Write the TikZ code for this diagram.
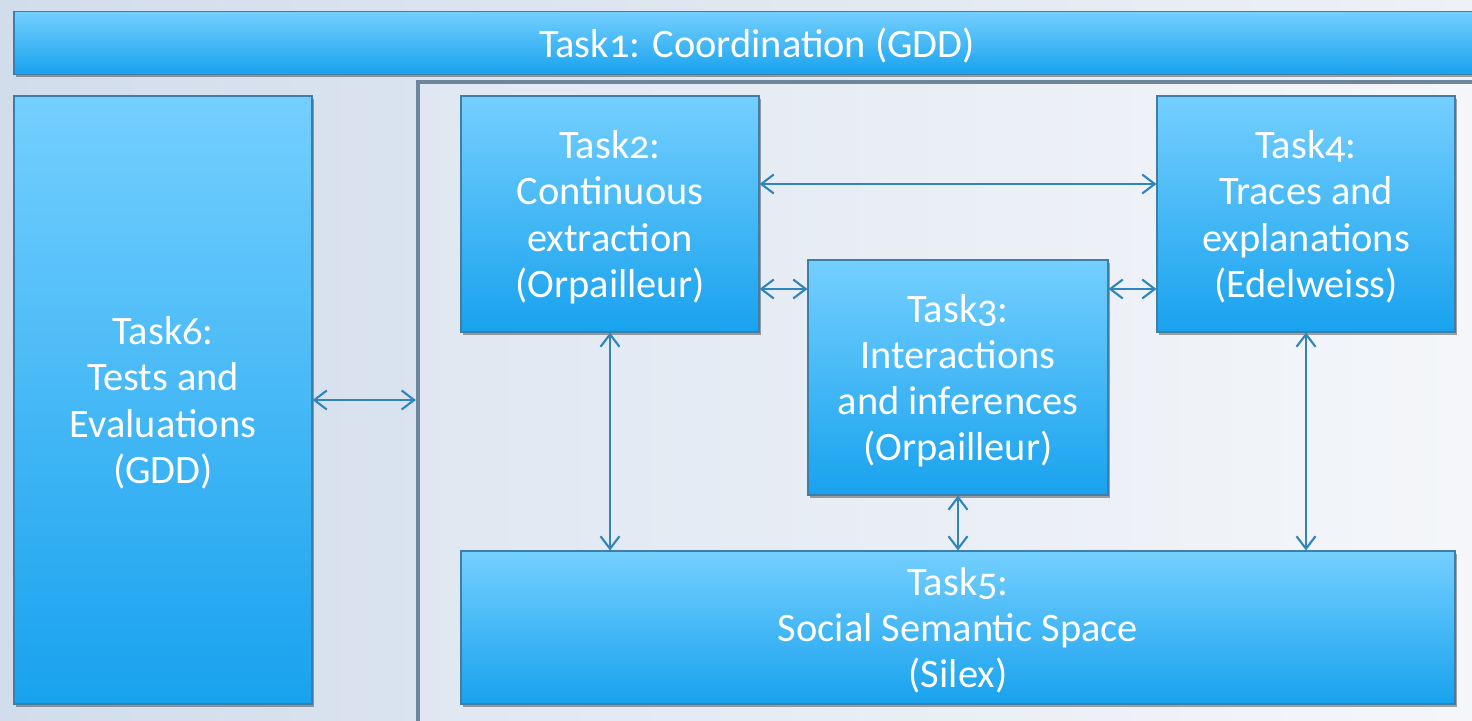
\documentclass[tikz,border=0pt]{standalone}
\usepackage{fontspec}
\setmainfont[Numbers=OldStyle]{Carlito}
\usetikzlibrary{arrows.meta,shadows}
\definecolor{boxtop}{HTML}{74CFFE}
\definecolor{boxbot}{HTML}{18A2EE}
\definecolor{boxline}{HTML}{3F7EA6}
\definecolor{linkblue}{HTML}{2F86BE}
\definecolor{bgleft}{HTML}{D2DDEC}
\definecolor{bgright}{HTML}{EEF1F6}
\definecolor{frameline}{HTML}{6E8699}

\begin{document}
\begin{tikzpicture}
[
task/.style 2 args={draw=boxline,line width=0.6pt,top color=boxtop,bottom color=boxbot,
            text=white,align=center,inner sep=0pt,text depth=-5pt,
            font=\fontsize{23}{26.3}\selectfont,
            minimum width=#1,minimum height=#2,
            drop shadow={shadow xshift=1.2pt,shadow yshift=-1.5pt,fill=black,opacity=0.35}},
link/.style={draw=linkblue,line width=1.2pt,{Straight Barb[length=2.5mm,width=3.8mm]}-{Straight Barb[length=2.5mm,width=3.8mm]}},
]
\useasboundingbox (0,0) rectangle (29.44,-14.4);
\shade[left color=bgleft,right color=bgright] (0,0) rectangle (29.44,-14.4);

%Place the nodes
\node[task={29.72cm}{1.26cm}] (task1) at (15.14,-0.86) {Task1: Coordination (GDD)};
\node[draw=frameline,line width=2.4pt,left color=bgleft!70!white,right color=bgright!60!white,
      minimum width=21.64cm,minimum height=13.16cm,inner sep=0pt] (frame) at (19.18,-8.22) {};
\node[task={5.96cm}{12.16cm}] (task6) at (3.26,-8.0) {Task6:\\Tests and\\Evaluations\\(GDD)};
\node[task={5.96cm}{4.72cm}] (task2) at (12.2,-4.28) {Task2:\\Continuous\\extraction\\(Orpailleur)};
\node[task={5.96cm}{4.72cm}] (task4) at (26.12,-4.28) {Task4:\\Traces and\\explanations\\(Edelweiss)};
\node[task={6.0cm}{4.7cm}] (task3) at (19.16,-7.55) {Task3:\\Interactions\\and inferences\\(Orpailleur)};
\node[task={19.88cm}{3.06cm}] (task5) at (19.16,-12.55) {Task5:\\Social Semantic Space\\(Silex)};

%Draw the connections
\draw[link] (task6.east) -- (task6.east -| frame.west);
\draw[link] ([yshift=0.6cm]task2.east) -- ([yshift=0.6cm]task4.west);
\draw[link] ([yshift=-1.5cm]task2.east) -- ([yshift=-1.5cm]task2.east -| task3.west);
\draw[link] ([yshift=-1.5cm]task4.west) -- ([yshift=-1.5cm]task4.west -| task3.east);
\draw[link] (task2.south) -- (task2.south |- task5.north);
\draw[link] (task3.south) -- (task3.south |- task5.north);
\draw[link] (task4.south) -- (task4.south |- task5.north);
\end{tikzpicture}
\end{document}
